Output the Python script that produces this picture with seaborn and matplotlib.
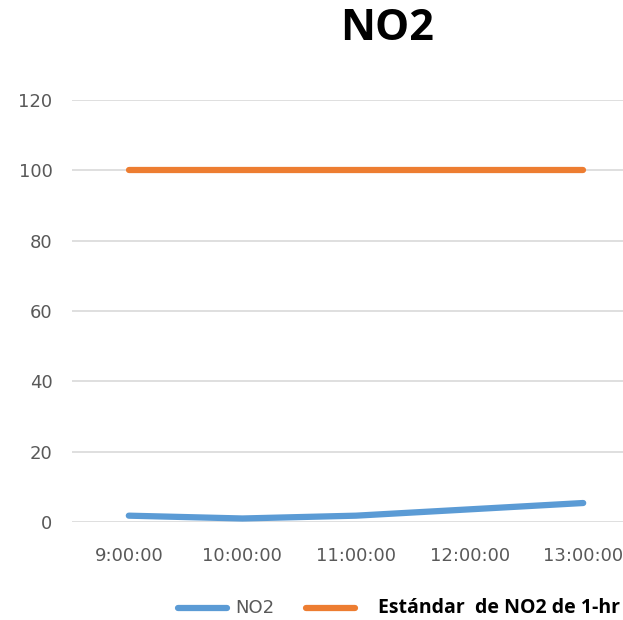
import matplotlib
matplotlib.use("Agg")
import matplotlib.pyplot as plt
import pandas as pd
import seaborn as sns
from matplotlib.lines import Line2D

# data
horas = ["9:00:00", "10:00:00", "11:00:00", "12:00:00", "13:00:00"]
no2 = [1.8, 1.0, 1.8, 3.6, 5.4]
estandar = [100, 100, 100, 100, 100]
y_ticks = [0, 20, 40, 60, 80, 100, 120]

azul = "#5B9BD5"
naranja = "#ED7D31"
gris = "#595959"

sns.set_theme(style="white")
plt.rcParams["font.family"] = ["DejaVu Sans"]

df = pd.DataFrame({"hora": horas, "NO2": no2, "Estándar  de NO2 de 1-hr": estandar})
df["pos"] = range(len(horas))

fig = plt.figure(figsize=(6.23, 6.20), dpi=100)
# plot area runs past the right edge, as in the cropped reference
ax = fig.add_axes([72 / 623, (620 - 522) / 620, 568 / 623, 422 / 620])

sns.lineplot(data=df, x="pos", y="NO2", ax=ax, color=azul, linewidth=4.5,
             solid_capstyle="round", legend=False)
sns.lineplot(data=df, x="pos", y="Estándar  de NO2 de 1-hr", ax=ax, color=naranja,
             linewidth=4.5, solid_capstyle="round", legend=False)

ax.set_xlim(-0.5, len(horas) - 0.5)
ax.set_ylim(0, 120)
ax.set_yticks(y_ticks)
ax.set_xticks(range(len(horas)))
ax.set_xticklabels(horas)
ax.yaxis.grid(True, color="#D9D9D9", linewidth=1.2)
ax.set_axisbelow(True)
for s in ax.spines.values():
    s.set_visible(False)
ax.tick_params(axis="both", length=0, labelsize=13, labelcolor=gris)
ax.tick_params(axis="y", pad=14)
ax.tick_params(axis="x", pad=18)
ax.set_xlabel("")
ax.set_ylabel("")

fig.text(387 / 623, 1 - 28 / 620, "NO2", ha="center", va="center",
         fontsize=31, fontweight="bold", color="black", family="Open Sans")

# legend drawn by hand to match the bottom row
y_leg = 1 - 608 / 620
fig.add_artist(Line2D([178 / 623, 227 / 623], [y_leg] * 2, color=azul,
                      linewidth=4.5, solid_capstyle="round"))
fig.text(235 / 623, y_leg, "NO2", ha="left", va="center", fontsize=13,
         color=gris)
fig.add_artist(Line2D([306 / 623, 355 / 623], [y_leg] * 2, color=naranja,
                      linewidth=4.5, solid_capstyle="round"))
fig.text(378 / 623, y_leg, "Estándar  de NO2 de 1-hr", ha="left",
         va="center", fontsize=14, fontweight="bold", color="black",
         family="Open Sans")

fig.savefig("out.png", dpi=100)
